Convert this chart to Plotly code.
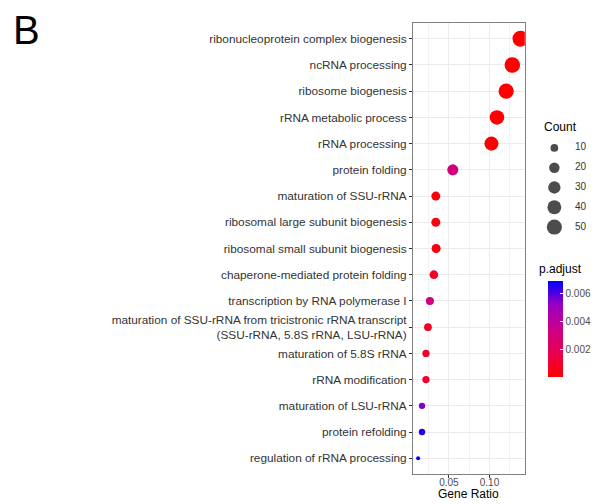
import numpy as np
import plotly.graph_objects as go

terms = [
    "ribonucleoprotein complex biogenesis",
    "ncRNA processing",
    "ribosome biogenesis",
    "rRNA metabolic process",
    "rRNA processing",
    "protein folding",
    "maturation of SSU-rRNA",
    "ribosomal large subunit biogenesis",
    "ribosomal small subunit biogenesis",
    "chaperone-mediated protein folding",
    "transcription by RNA polymerase I",
    "maturation of SSU-rRNA from tricistronic rRNA transcript<br>(SSU-rRNA, 5.8S rRNA, LSU-rRNA)",
    "maturation of 5.8S rRNA",
    "rRNA modification",
    "maturation of LSU-rRNA",
    "protein refolding",
    "regulation of rRNA processing",
]
gene_ratio = [0.1382, 0.1281, 0.1205, 0.1092, 0.1024, 0.0548, 0.0339, 0.0339, 0.0343,
              0.0315, 0.0266, 0.0242, 0.0218, 0.0218, 0.0169, 0.0169, 0.0121]
counts = [57, 53, 50, 45, 42, 23, 14, 14, 14, 13, 11, 10, 9, 9, 7, 7, 5]
p_adjust = [1e-12, 1e-12, 1e-12, 1e-12, 1e-12, 0.0031, 0.0002, 0.0003, 0.0003,
            0.0008, 0.0030, 0.0008, 0.0009, 0.0009, 0.0055, 0.0066, 0.0069]

legend_counts = [10, 20, 30, 40, 50]
x_ticks = [0.05, 0.10]
x_ticktext = ["0.05", "0.10"]
cbar_ticks = [0.002, 0.004, 0.006]

cmin_c, cmax_c = min(counts), max(counts)


def size_scale(c):
    c = np.asarray(c, dtype=float)
    return 4 + 12 * np.sqrt((c - cmin_c) / (cmax_c - cmin_c))


colorscale = [[0, "#FF0000"], [0.25, "#E80050"], [0.5, "#CA0089"],
              [0.75, "#9A00C3"], [1, "#0000FF"]]

FONT = "Liberation Sans, Arial, sans-serif"
OFF = 8  # page body margin
W, H = 599 - OFF, 504 - OFF
ML, MR, MT, MB = 405, 5, 15, 30
PW = W - ML - MR
PH = H - MT - MB


def px_x(p):
    return (p - OFF - ML) / PW


def px_y(p):
    return (H - MB - (p - OFF)) / PH


fig = go.Figure()
fig.add_trace(go.Scatter(
    x=gene_ratio, y=terms, mode="markers", showlegend=False,
    marker=dict(size=size_scale(counts), color=p_adjust, colorscale=colorscale,
                cmin=min(p_adjust), cmax=max(p_adjust), opacity=1,
                line=dict(width=0),
                colorbar=dict(x=px_x(550), xanchor="left", xpad=0, ypad=0,
                              y=px_y(329), yanchor="middle", len=96, lenmode="pixels",
                              thickness=15, outlinewidth=0,
                              tickvals=cbar_ticks, ticktext=[f"{v:.3f}" for v in cbar_ticks],
                              ticks="inside", ticklen=3, tickcolor="white",
                              tickfont=dict(size=10, color="#4D4D4D", family=FONT))),
))

# size legend
fig.add_trace(go.Scatter(
    x=[0.31] * len(legend_counts), y=legend_counts, mode="markers",
    xaxis="x2", yaxis="y2", showlegend=False, hoverinfo="skip",
    marker=dict(size=size_scale(legend_counts), color="black", line=dict(width=0)),
))
fig.add_trace(go.Scatter(
    x=[0.70] * len(legend_counts), y=legend_counts, mode="text",
    text=[str(c) for c in legend_counts], textposition="middle right",
    xaxis="x2", yaxis="y2", showlegend=False, hoverinfo="skip",
    textfont=dict(size=10, color="#333333", family=FONT),
))

axis_common = dict(showline=True, mirror=True, linecolor="#7F7F7F", linewidth=1,
                   ticks="outside", ticklen=3, tickcolor="#333333", zeroline=False,
                   gridcolor="#EBEBEB", gridwidth=1)

fig.update_layout(
    width=W, height=H, margin=dict(l=ML, r=MR, t=MT, b=MB),
    paper_bgcolor="white", plot_bgcolor="white",
    font=dict(family=FONT),
    xaxis=dict(domain=[0, px_x(526.7)], range=[0.0058, 0.1435],
               tickvals=x_ticks, ticktext=x_ticktext, ticklabelstandoff=-4,
               tickfont=dict(size=10, color="#4D4D4D", family=FONT),
               minor=dict(tick0=0.025, dtick=0.05, showgrid=True,
                          gridcolor="#F2F2F2", gridwidth=0.5, ticks=""),
               **axis_common),
    yaxis=dict(categoryorder="array", categoryarray=terms[::-1],
               range=[-0.6, len(terms) - 0.4],
               tickfont=dict(size=11.8, color="#333333", family=FONT),
               **axis_common),
    xaxis2=dict(domain=[px_x(540), 1], range=[0, 1], visible=False, anchor="y2"),
    yaxis2=dict(domain=[px_y(236.9), px_y(138.1)], range=[55, 5], visible=False, anchor="x2"),
    annotations=[
        dict(text="B", x=px_x(4), y=px_y(30), xref="paper", yref="paper",
             xanchor="left", yanchor="middle", showarrow=False,
             font=dict(size=40, color="black", family=FONT)),
        dict(text="Gene Ratio", x=px_x(469.7), y=px_y(494), xref="paper", yref="paper",
             xanchor="center", yanchor="middle", showarrow=False,
             font=dict(size=12, color="black", family=FONT)),
        dict(text="Count", x=px_x(544), y=px_y(127), xref="paper", yref="paper",
             xanchor="left", yanchor="middle", showarrow=False,
             font=dict(size=12, color="black", family=FONT)),
        dict(text="p.adjust", x=px_x(539), y=px_y(269), xref="paper", yref="paper",
             xanchor="left", yanchor="middle", showarrow=False,
             font=dict(size=12, color="black", family=FONT)),
    ],
)

fig.write_html("out.html")
